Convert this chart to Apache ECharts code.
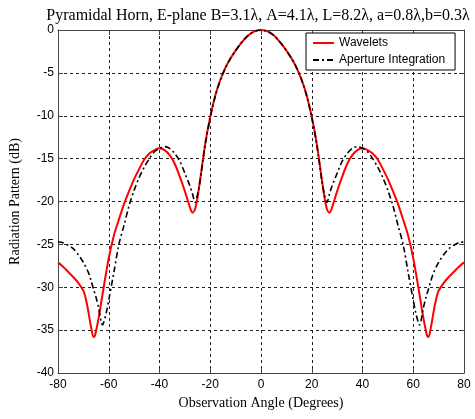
<!DOCTYPE html>
<html>
<head>
<meta charset="utf-8">
<title>Pyramidal Horn E-plane</title>
<script src="https://cdn.jsdelivr.net/npm/echarts@6/dist/echarts.min.js"></script>
<style>
  html, body { margin: 0; padding: 0; background: #fff; }
  #chart { width: 475px; height: 419px; }
</style>
</head>
<body>
<div id="chart"></div>
<script>
// values
const xTicks = [-80, -60, -40, -20, 0, 20, 40, 60, 80];
const yTicks = [-40, -35, -30, -25, -20, -15, -10, -5, 0];

const waveletAngles = [-80, -78, -76, -74, -72, -70, -69, -68, -67, -66, -65.5, -65, -64, -63, -62, -60, -58, -56, -54, -52, -50,
  -48, -46, -44, -42, -40, -38, -36, -34, -32, -30, -28, -27, -26, -25, -24, -22, -20, -18, -16, -14,
  -12, -10, -8, -6, -4, -2, 0, 2, 4, 6, 8, 10, 12, 14, 16, 18,
  20, 22, 24, 25, 26, 27, 28, 30, 32, 34, 36, 38, 40, 42, 44, 46, 48, 50,
  52, 54, 56, 58, 60, 62, 63, 64, 65, 65.5, 66, 67, 68, 69, 70, 72, 74, 76, 78, 80];
const waveletDb = [-27.1, -27.6, -28.2, -28.8, -29.5, -30.4, -31.4, -32.9, -34.6, -35.8, -35.7, -35.1, -33.6, -31.8, -30.0, -26.6, -24.0, -22.1, -20.3, -18.8, -17.4,
  -16.2, -15.1, -14.4, -14.0, -13.8, -14.0, -14.6, -15.6, -17.1, -18.8, -20.7, -21.3, -20.9, -19.5, -17.5, -13.3, -10.1, -7.6, -5.8, -4.4,
  -3.3, -2.4, -1.6, -0.9, -0.4, -0.1, 0, -0.1, -0.4, -0.9, -1.6, -2.4, -3.3, -4.4, -5.8, -7.6,
  -10.1, -13.3, -17.5, -19.5, -20.9, -21.3, -20.7, -18.8, -17.1, -15.6, -14.6, -14.0, -13.8, -14.0, -14.4, -15.1, -16.2, -17.4,
  -18.8, -20.3, -22.1, -24.0, -26.6, -30.0, -31.8, -33.6, -35.1, -35.7, -35.8, -34.6, -32.9, -31.4, -30.4, -29.5, -28.8, -28.2, -27.6, -27.1];

const apertureAngles = [-80, -78, -76, -74, -72, -70, -68, -67, -66, -65, -64, -63, -62.5, -62, -61, -60, -58, -56, -54, -52,
  -50, -48, -46, -44, -42, -40, -38, -36, -34, -32, -30, -28, -27, -26, -25, -24, -22, -20, -18, -16,
  -14, -12, -10, -8, -6, -4, -2, 0, 2, 4, 6, 8, 10, 12, 14, 16,
  18, 20, 22, 24, 25, 26, 27, 28, 30, 32, 34, 36, 38, 40, 42, 44, 46, 48,
  50, 52, 54, 56, 58, 60, 61, 62, 62.5, 63, 64, 65, 66, 67, 68, 70, 72, 74, 76, 78, 80];
const apertureDb = [-24.7, -24.8, -25.1, -25.5, -26.2, -27.1, -28.3, -29.2, -30.2, -31.2, -32.4, -34.0, -34.4, -34.1, -33.0, -31.5, -28.3, -25.0, -22.8, -20.5,
  -18.7, -17.2, -16.0, -15.0, -14.2, -13.8, -13.6, -13.8, -14.4, -15.3, -16.7, -18.2, -19.1, -20.1, -19.2, -17.6, -13.4, -10.2, -7.7, -5.8,
  -4.4, -3.3, -2.4, -1.6, -0.9, -0.4, -0.1, 0, -0.1, -0.4, -0.9, -1.6, -2.4, -3.3, -4.4, -5.8,
  -7.7, -10.2, -13.4, -17.6, -19.2, -20.1, -19.1, -18.2, -16.7, -15.3, -14.4, -13.8, -13.6, -13.8, -14.2, -15.0, -16.0, -17.2,
  -18.7, -20.5, -22.8, -25.0, -28.3, -31.5, -33.0, -34.1, -34.4, -34.0, -32.4, -31.2, -30.2, -29.2, -28.3, -27.1, -26.2, -25.5, -25.1, -24.8, -24.7];

const pairs = (xs, ys) => xs.map((x, i) => [x, ys[i]]);

const chart = echarts.init(document.getElementById('chart'));

const sans = 'Liberation Sans';
const serif = 'Liberation Serif';
const axisColor = '#444';

const gridDash = {
  show: true,
  lineStyle: { color: '#222', type: [3, 3], width: 1 }
};

function xAxisDef(pos, main) {
  return {
    type: 'value',
    position: pos,
    min: xTicks[0],
    max: xTicks[xTicks.length - 1],
    interval: 20,
    name: main ? 'Observation Angle (Degrees)' : '',
    nameLocation: 'middle',
    nameGap: 22,
    nameTextStyle: { fontFamily: serif, fontSize: 14, color: '#000' },
    axisLine: { show: true, onZero: false, lineStyle: { color: axisColor, width: 1 } },
    axisTick: { show: true, inside: true, length: 5, lineStyle: { color: axisColor } },
    axisLabel: { show: main, margin: 6, fontFamily: sans, fontSize: 12, color: '#000' },
    splitLine: main ? gridDash : { show: false }
  };
}

function yAxisDef(pos, main) {
  return {
    type: 'value',
    position: pos,
    min: yTicks[0],
    max: yTicks[yTicks.length - 1],
    interval: 5,
    name: main ? 'Radiation Pattern (dB)' : '',
    nameLocation: 'middle',
    nameGap: 36,
    nameTextStyle: { fontFamily: serif, fontSize: 14, color: '#000' },
    axisLine: { show: true, onZero: false, lineStyle: { color: axisColor, width: 1 } },
    axisTick: { show: true, inside: true, length: 5, lineStyle: { color: axisColor } },
    axisLabel: { show: main, margin: 4, fontFamily: sans, fontSize: 12, color: '#000' },
    splitLine: main ? gridDash : { show: false }
  };
}

const option = {
  animation: false,
  backgroundColor: '#fff',
  title: {
    text: 'Pyramidal Horn, E-plane B=3.1λ, A=4.1λ, L=8.2λ, a=0.8λ,b=0.3λ',
    left: 253,
    textAlign: 'center',
    top: 3,
    textStyle: { fontFamily: serif, fontSize: 16, fontWeight: 'normal', color: '#000' }
  },
  grid: { left: 56, right: 11, top: 30, bottom: 46 },
  legend: {
    orient: 'vertical',
    left: 306,
    top: 33,
    backgroundColor: '#fff',
    borderColor: '#000',
    borderWidth: 1,
    borderRadius: 0,
    padding: [4, 10, 4, 6],
    itemWidth: 21,
    itemHeight: 12,
    itemGap: 5,
    itemStyle: { opacity: 0 },
    textStyle: { fontFamily: sans, fontSize: 12, color: '#000' },
    data: ['Wavelets', 'Aperture Integration']
  },
  xAxis: [xAxisDef('bottom', true), xAxisDef('top', false)],
  yAxis: [yAxisDef('left', true), yAxisDef('right', false)],
  series: [
    {
      name: 'Wavelets',
      type: 'line',
      data: pairs(waveletAngles, waveletDb),
      symbol: 'none',
      smooth: 0.3,
      lineStyle: { color: '#ff0000', width: 2 },
      itemStyle: { color: '#ff0000' }
    },
    {
      name: 'Aperture Integration',
      type: 'line',
      data: pairs(apertureAngles, apertureDb),
      symbol: 'none',
      smooth: 0.3,
      lineStyle: { color: '#000', width: 1.6, type: [6, 3, 2, 3] },
      itemStyle: { color: '#000' }
    }
  ]
};

chart.setOption(option);
</script>
</body>
</html>
